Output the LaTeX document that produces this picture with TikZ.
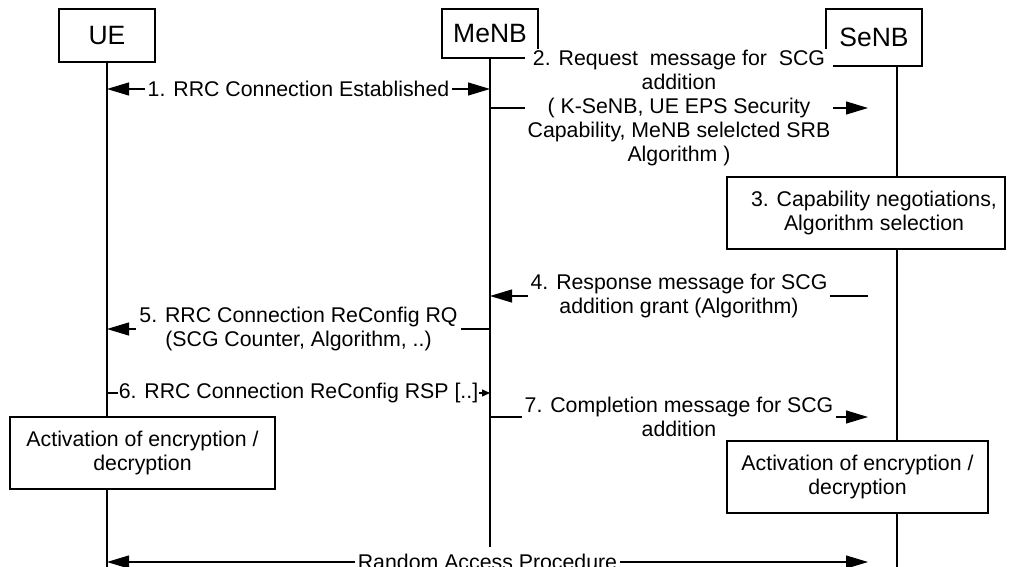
\documentclass[tikz,border=0pt]{standalone}
\usepackage{fontspec}
\setmainfont{Liberation Sans}
\usetikzlibrary{arrows.meta}

\tikzset{
  actor/.style={draw, fill=white, line width=1.1pt, minimum width=96pt, font=\fontsize{26.5}{30}\selectfont},
  stepbox/.style={draw, fill=white, line width=1.1pt, minimum width=#1, minimum height=72pt, align=center, font=\fontsize{21.3}{24}\selectfont},
  life/.style={line width=1.1pt},
  msg/.style={line width=1.1pt, -{Triangle[length=22pt,width=13pt]}},
  bimsg/.style={line width=1.1pt, {Triangle[length=22pt,width=13pt]}-{Triangle[length=22pt,width=13pt]}},
  smallmsg/.style={line width=1.1pt, -{Triangle[length=8pt,width=7pt]}},
  lbl/.style={fill=white, inner xsep=3pt, inner ysep=1pt, align=center, font=\fontsize{21.3}{24}\selectfont}
}

\begin{document}
\begin{tikzpicture}[x=1pt,y=-1pt]
\useasboundingbox (0,0) rectangle (1009,567);
\clip (0,0) rectangle (1009,567);

% entities
\node[actor, minimum height=53pt] (ue) at (107,35.5) {UE};
\node[actor, minimum height=49pt] (menb) at (490,33.5) {MeNB};
\node[actor, minimum height=57pt] (senb) at (874,37.5) {SeNB};

% lifelines
\coordinate (ueend) at (107,567);
\coordinate (menbend) at (490,547);
\coordinate (senbtop) at (897,66);
\coordinate (senbend) at (897,567);
\coordinate (sx) at (868,0);
\draw[life] (ue.south) -- (ueend);
\draw[life] (menb.south) -- (menbend);
\draw[life] (senbtop) -- (senbend);

% local steps
\node[stepbox=278pt] (neg) at (866,213) {\hspace*{16pt}3. Capability negotiations,\\\hspace*{16pt}Algorithm selection};
\node[stepbox=265pt] (actue) at (142.5,453) {Activation of encryption /\\decryption};
\node[stepbox=261pt] (actsenb) at (857.5,477) {Activation of encryption /\\decryption};

% message rows
\coordinate (r1) at (0,89);
\coordinate (r2) at (0,108);
\coordinate (r4) at (0,296);
\coordinate (r5) at (0,329);
\coordinate (r6) at (0,393);
\coordinate (r7) at (0,417);
\coordinate (r8) at (0,562);

\draw[bimsg] (ue |- r1) -- node[lbl] (l1) {1. RRC Connection Established} (menb |- r1);
\draw[msg] (menb |- r2) -- node[lbl] (l2) {2. Request~ message for~ SCG\\addition\\( K-SeNB, UE EPS Security\\Capability, MeNB selelcted SRB\\Algorithm )} (sx |- r2);
\draw[msg] (sx |- r4) -- node[lbl] (l4) {4. Response message for SCG\\addition grant (Algorithm)} (menb |- r4);
\draw[msg] (menb |- r5) -- node[lbl] (l5) {5. RRC Connection ReConfig RQ\\(SCG Counter, Algorithm, ..)} (ue |- r5);
\draw[smallmsg] (ue |- r6) -- node[lbl, inner xsep=1pt] (l6) {6. RRC Connection ReConfig RSP [..]} (menb |- r6);
\draw[msg] (menb |- r7) -- node[lbl] (l7) {7. Completion message for SCG\\addition} (sx |- r7);
\draw[bimsg] (ue |- r8) -- node[lbl] (l8) {Random Access Procedure} (sx |- r8);
\end{tikzpicture}
\end{document}
